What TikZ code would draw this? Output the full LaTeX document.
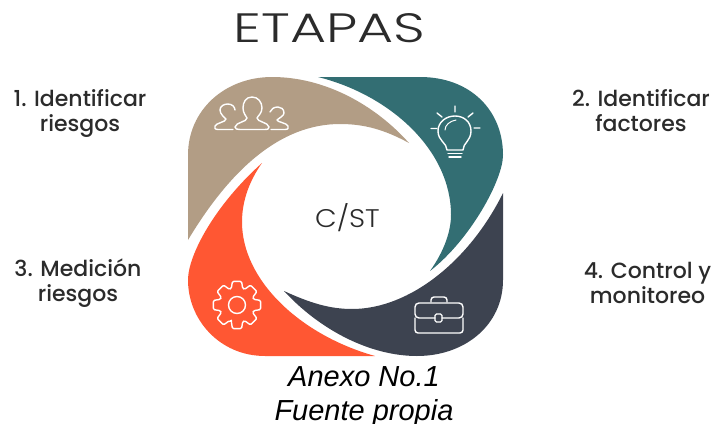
\documentclass[tikz,border=0pt]{standalone}
\usepackage{fontspec}
\usepackage{graphicx}
\setmainfont{Liberation Sans}
\newfontfamily\lightf[UprightFont={* Light}]{Poppins}
\newfontfamily\medf[UprightFont={* Medium}]{Poppins}
\definecolor{tan}{HTML}{B29D85}
\definecolor{teal}{HTML}{336E73}
\definecolor{slate}{HTML}{3D4350}
\definecolor{redo}{HTML}{FF5733}
\definecolor{ink}{HTML}{2B2B2B}
\tikzset{
  icon/.style={draw=white,line width=1.4pt,line cap=round,line join=round,fill=none},
  lab/.style={font=\medf\fontsize{22pt}{25pt}\selectfont,align=center,inner sep=0pt,anchor=center,text=ink},
  captxt/.style={font=\itshape\fontsize{29pt}{32pt}\selectfont,inner sep=0pt,anchor=base,text=black}
}
\begin{document}
\begin{tikzpicture}[x=1pt,y=-1pt]
\useasboundingbox (0,0) rectangle (712,423);
\fill[tan] (188,240) -- (188,155) .. controls (188,110) and (225,77) .. (272,77) .. controls (325,77) and (375,105) .. (409,143) .. controls (385,130) and (365,124) .. (340,124) .. controls (280,124) and (230,170) .. (188,240) -- cycle;
\fill[teal] (318,77) -- (420,77) .. controls (470,77) and (503,110) .. (503,155) .. controls (503,180) and (470,240) .. (430,271) .. controls (445,250) and (451,230) .. (451,215) .. controls (451,150) and (390,95) .. (318,77) -- cycle;
\fill[slate] (503,193) -- (503,280) .. controls (503,325) and (465,356) .. (417,356) .. controls (370,356) and (320,330) .. (284,291) .. controls (310,303) and (330,309) .. (352,309) .. controls (410,309) and (470,260) .. (503,193) -- cycle;
\fill[redo] (262,163) .. controls (250,180) and (242,200) .. (242,222) .. controls (242,280) and (300,335) .. (375,356) -- (265,356) .. controls (220,356) and (188,320) .. (188,280) .. controls (188,255) and (215,205) .. (262,163) -- cycle;
% people
\draw[icon] (252,97) .. controls (246,97) and (243,102) .. (243,108) .. controls (243,113) and (246,116) .. (247,118) .. controls (247,122) and (236,122) .. (235,127) .. controls (235,129) and (237,129.5) .. (240,129.5) -- (264,129.5) .. controls (268,129.5) and (269,129) .. (269,127) .. controls (268,122) and (257,122) .. (257,118) .. controls (258,116) and (262,113) .. (262,108) .. controls (262,102) and (258,97) .. (252,97) -- cycle;
\draw[icon] (233,129.5) -- (218,129.5) .. controls (215,129.5) and (214,128) .. (215,126) .. controls (216,123) and (226,122) .. (226,119) .. controls (224,117) and (220,114) .. (220,110) .. controls (220,106) and (224,104) .. (228,104) .. controls (232,104) and (235,107) .. (235,110);
\draw[icon] (271,129.5) -- (285,129.5) .. controls (288,129.5) and (289,128) .. (288,126) .. controls (287,123) and (277,122) .. (277,120) .. controls (279,118) and (284,116) .. (284,113) .. controls (284,109) and (281,107) .. (278,107) .. controls (274,107) and (271,109) .. (270,112);
% bulb
\draw[icon] (447,150) .. controls (447,143) and (438,141) .. (438,131) .. controls (438,122) and (446,116) .. (455,116) .. controls (464,116) and (471,122) .. (471,131) .. controls (471,141) and (463,143) .. (463,150) -- cycle;
\draw[icon,line width=1pt] (445,130) .. controls (445,125) and (450,121) .. (456,120);
\draw[icon] (448,153.5) -- (462,153.5) (449,157) -- (461,157);
\draw[icon] (455,106) -- (455,112) (437,113) -- (442,117) (473,113) -- (468,117) (431,128.5) -- (437,128.5) (474,128) -- (480,128);
% gear
\begin{scope}[shift={(237,305)}]
\draw[icon,rounded corners=1.2pt] (109:17.5) \foreach \a in {90,45,0,-45,-90,-135,-180,-225}{ -- (\a+19:17.5) -- (\a+11:24) -- (\a-11:24) -- (\a-19:17.5)} -- cycle;
\draw[icon] (0,0) circle[radius=8.5];
\end{scope}
% briefcase
\draw[icon,rounded corners=4pt] (435,318) -- (415,318) -- (415,303) -- (463,303) -- (463,318) -- (442,318);
\draw[icon,rounded corners=3pt] (415,318) -- (415,333) -- (463,333) -- (463,318);
\draw[icon,rounded corners=1.5pt] (435,314) rectangle (442,322);
\draw[icon,rounded corners=3pt] (431,302) -- (431,297) -- (447,297) -- (447,302);
% text
\node[inner sep=0pt,anchor=base,font=\lightf\fontsize{41pt}{45pt}\selectfont,text=ink] (title) at (329.5,42) {\scalebox{1.35}[1]{ETAPAS}};
\node[inner sep=0pt,anchor=base,font=\lightf\fontsize{25.5pt}{28pt}\selectfont,text=ink] (center) at (347.5,227) {\scalebox{1.1}[1]{C/ST}};
\node[lab] (l1) at (80,113) {1. Identificar\\riesgos};
\node[lab] (l2) at (641,111) {2. Identificar\\factores};
\node[lab] (l3) at (78,283) {3. Medición\\riesgos};
\node[lab] (l4) at (647.5,283) {4. Control y\\monitoreo};
\node[captxt] (c1) at (364,386) {Anexo No.1};
\node[captxt] (c2) at (364,420) {Fuente propia};
\end{tikzpicture}
\end{document}
